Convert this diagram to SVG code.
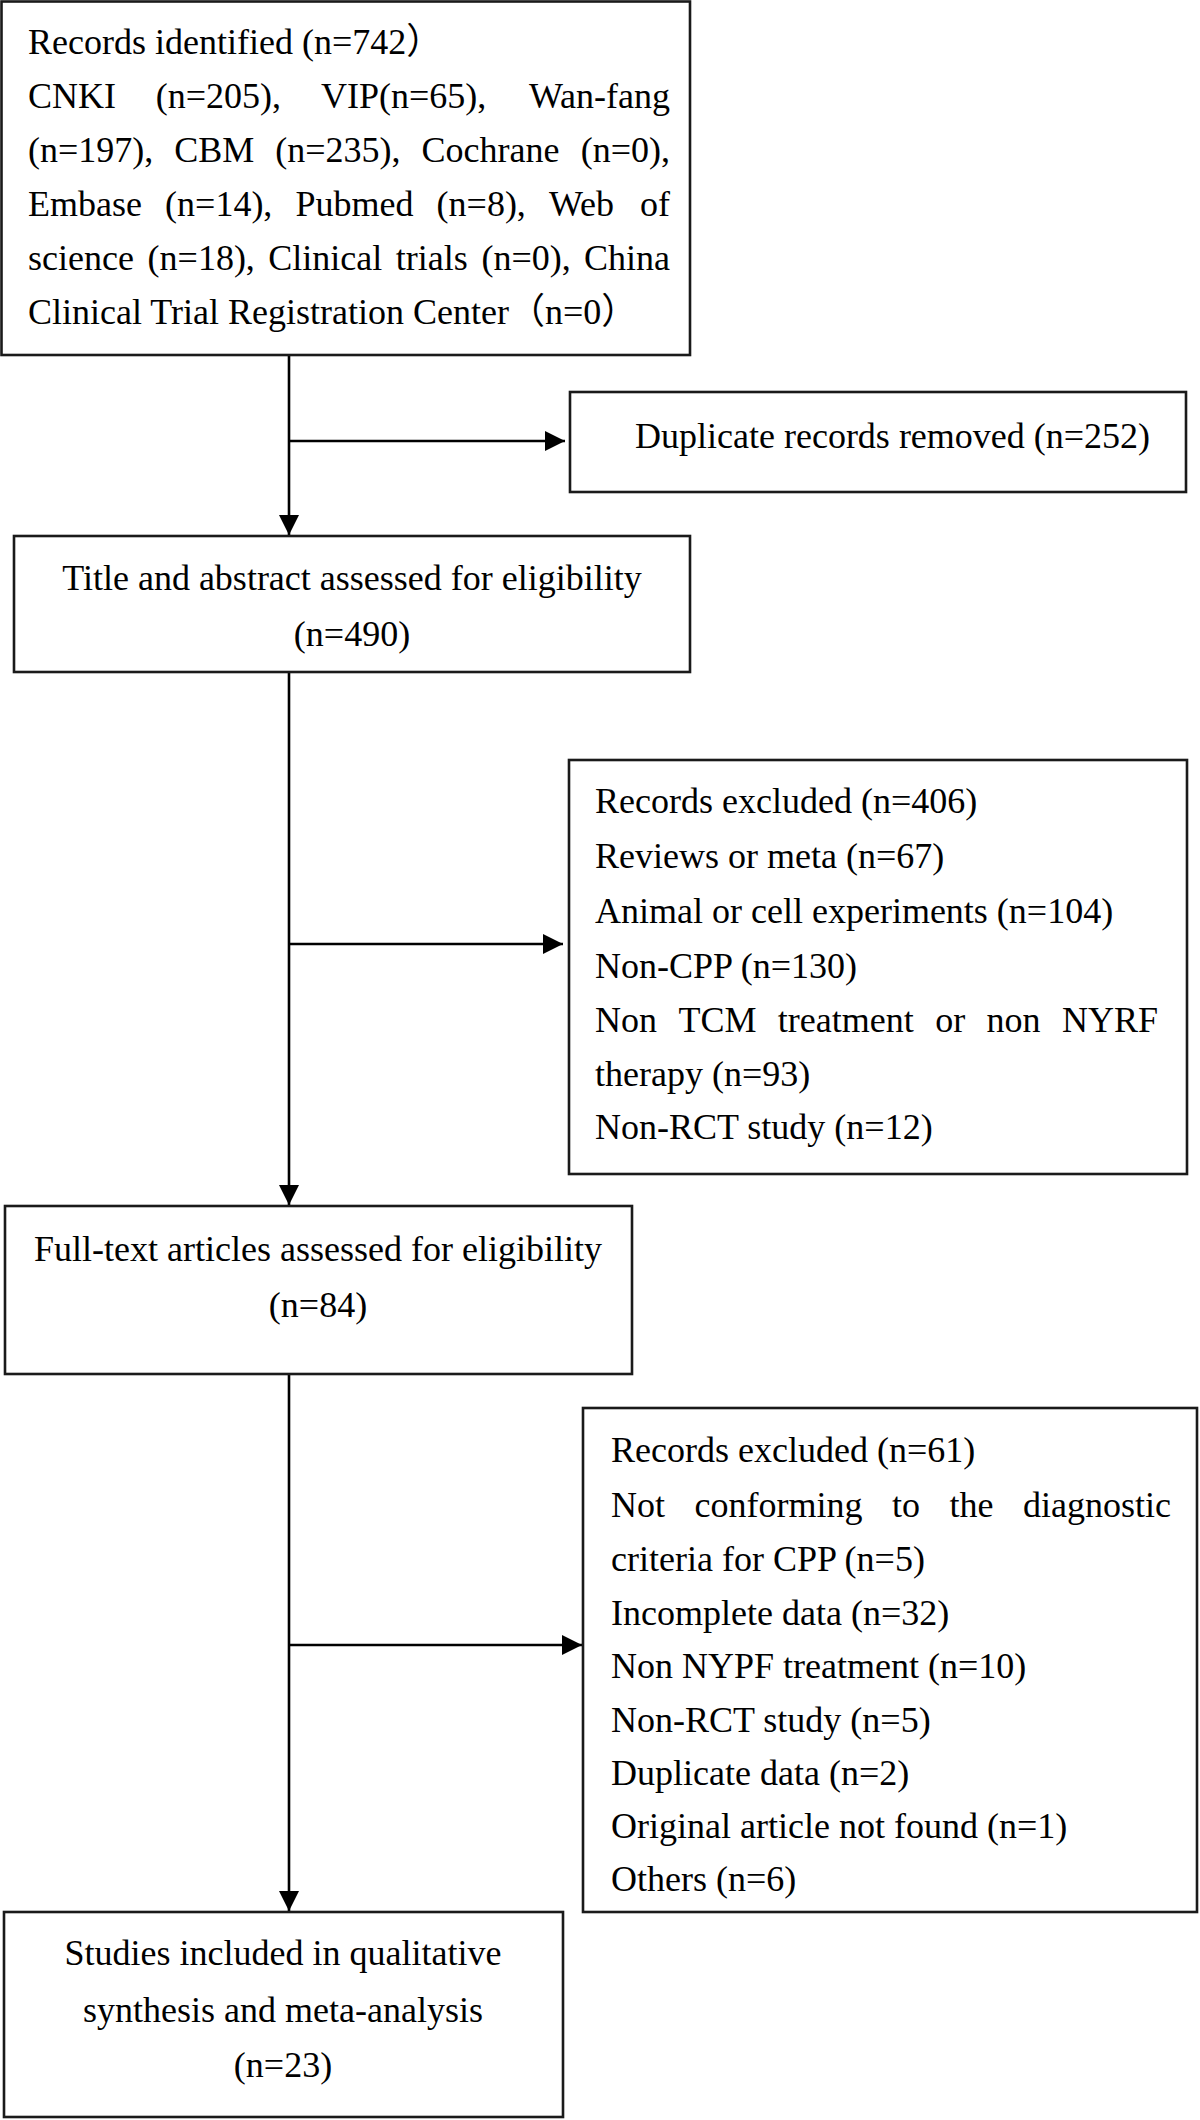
<svg xmlns="http://www.w3.org/2000/svg" width="1200" height="2120" viewBox="0 0 1200 2120">
<style>
  .box { fill: #ffffff; stroke: #1a1a1a; stroke-width: 2.6; }
  .t { font-family: "Liberation Serif", "Times New Roman", "Noto Sans CJK SC", serif; font-size: 36px; fill: #000000; }
  .c { text-anchor: middle; }
  .e { text-anchor: end; }
  .ln { fill: none; stroke: #000000; stroke-width: 2.6; }
</style>
<defs>
  <marker id="ah" markerUnits="userSpaceOnUse" markerWidth="22" markerHeight="22" refX="20" refY="10" orient="auto">
    <path d="M0,0 L20,10 L0,20 Z" fill="#000000"/>
  </marker>
</defs>
<rect width="1200" height="2120" fill="#ffffff"/>

<g id="connectors">
  <line class="ln" x1="289" y1="355" x2="289" y2="535" marker-end="url(#ah)"/>
  <line class="ln" x1="289" y1="441" x2="565" y2="441" marker-end="url(#ah)"/>
  <line class="ln" x1="289" y1="672" x2="289" y2="1205" marker-end="url(#ah)"/>
  <line class="ln" x1="289" y1="944" x2="563" y2="944" marker-end="url(#ah)"/>
  <line class="ln" x1="289" y1="1374" x2="289" y2="1911" marker-end="url(#ah)"/>
  <line class="ln" x1="289" y1="1645" x2="582" y2="1645" marker-end="url(#ah)"/>
</g>

<g id="records-identified">
  <rect class="box" x="1.5" y="1.5" width="688.5" height="353.5"/>
  <text class="t" x="28" y="54">Records identified (n=742）</text>
  <text class="t" y="108"><tspan x="28">CNKI</tspan><tspan x="155.8">(n=205),</tspan><tspan x="320.9">VIP(n=65),</tspan><tspan x="670" class="e">Wan-fang</tspan></text>
  <text class="t" y="162"><tspan x="28">(n=197),</tspan><tspan x="174.3">CBM</tspan><tspan x="275.3">(n=235),</tspan><tspan x="421.6">Cochrane</tspan><tspan x="670" class="e">(n=0),</tspan></text>
  <text class="t" y="216"><tspan x="28">Embase</tspan><tspan x="165.1">(n=14),</tspan><tspan x="295.5">Pubmed</tspan><tspan x="436.6">(n=8),</tspan><tspan x="549">Web</tspan><tspan x="670" class="e">of</tspan></text>
  <text class="t" y="270"><tspan x="28">science</tspan><tspan x="147.6">(n=18),</tspan><tspan x="268.2">Clinical</tspan><tspan x="395.8">trials</tspan><tspan x="481.4">(n=0),</tspan><tspan x="670" class="e">China</tspan></text>
  <text class="t" x="28" y="324">Clinical Trial Registration Center（n=0）</text>
</g>

<g id="duplicates-removed">
  <rect class="box" x="570" y="392" width="616" height="100"/>
  <text class="t" x="635" y="448">Duplicate records removed (n=252)</text>
</g>

<g id="title-abstract">
  <rect class="box" x="14" y="536" width="676" height="136"/>
  <text class="t c" x="352" y="590">Title and abstract assessed for eligibility</text>
  <text class="t c" x="352" y="646">(n=490)</text>
</g>

<g id="records-excluded-1">
  <rect class="box" x="569" y="760" width="618" height="414"/>
  <text class="t" x="595" y="813">Records excluded (n=406)</text>
  <text class="t" x="595" y="868">Reviews or meta (n=67)</text>
  <text class="t" x="595" y="923">Animal or cell experiments (n=104)</text>
  <text class="t" x="595" y="978">Non-CPP (n=130)</text>
  <text class="t" y="1032"><tspan x="595">Non</tspan><tspan x="678.4">TCM</tspan><tspan x="777.8">treatment</tspan><tspan x="935.2">or</tspan><tspan x="986.6">non</tspan><tspan x="1158" class="e">NYRF</tspan></text>
  <text class="t" x="595" y="1086">therapy (n=93)</text>
  <text class="t" x="595" y="1139">Non-RCT study (n=12)</text>
</g>

<g id="full-text">
  <rect class="box" x="5" y="1206" width="627" height="168"/>
  <text class="t c" x="318" y="1261">Full-text articles assessed for eligibility</text>
  <text class="t c" x="318" y="1317">(n=84)</text>
</g>

<g id="records-excluded-2">
  <rect class="box" x="583" y="1408" width="614" height="504"/>
  <text class="t" x="611" y="1462">Records excluded (n=61)</text>
  <text class="t" y="1517"><tspan x="611">Not</tspan><tspan x="694.5">conforming</tspan><tspan x="892">to</tspan><tspan x="949.5">the</tspan><tspan x="1171" class="e">diagnostic</tspan></text>
  <text class="t" x="611" y="1571">criteria for CPP (n=5)</text>
  <text class="t" x="611" y="1625">Incomplete data (n=32)</text>
  <text class="t" x="611" y="1678">Non NYPF treatment (n=10)</text>
  <text class="t" x="611" y="1732">Non-RCT study (n=5)</text>
  <text class="t" x="611" y="1785">Duplicate data (n=2)</text>
  <text class="t" x="611" y="1838">Original article not found (n=1)</text>
  <text class="t" x="611" y="1891">Others (n=6)</text>
</g>

<g id="studies-included">
  <rect class="box" x="4" y="1912" width="559" height="205"/>
  <text class="t c" x="283" y="1965">Studies included in qualitative</text>
  <text class="t c" x="283" y="2022">synthesis and meta-analysis</text>
  <text class="t c" x="283" y="2077">(n=23)</text>
</g>
</svg>
